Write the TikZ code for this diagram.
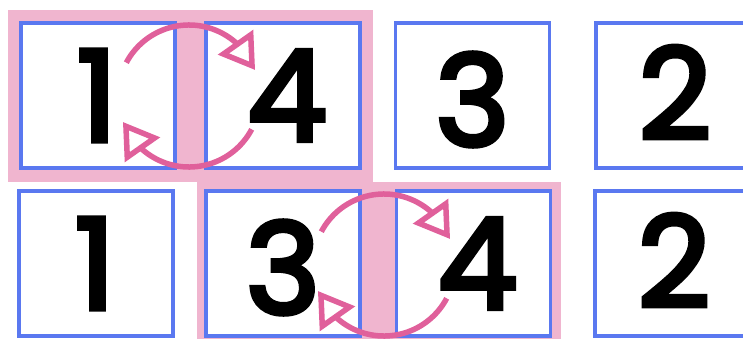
\documentclass[tikz,border=0pt]{standalone}
\usepackage{fontspec}
\newfontfamily\digitfont{Poppins}[FakeBold=4]
\usetikzlibrary{arrows.meta,bending}
\definecolor{pinkbg}{RGB}{240,181,207}
\definecolor{arcpink}{RGB}{224,96,155}
\definecolor{boxblue}{RGB}{90,120,240}
\tikzset{
  cell/.style={draw=boxblue, line width=3.5pt, fill=white, inner sep=0pt,
    minimum width=154pt, minimum height=145pt},
  digit/.style={inner sep=0pt, font=\digitfont\fontsize{126}{126}\selectfont},
  band/.style={fill=pinkbg, draw=none},
  swaparc/.style={draw=arcpink, line width=5.5pt, line join=miter,
    -{Triangle[open, length=34pt, width=42pt, line join=miter]}}
}
\begin{document}
\begin{tikzpicture}[x=1pt,y=1pt]
\useasboundingbox (0,0) rectangle (743,338);
% pink highlight bands
\fill[band] (8,156) rectangle (373,328);
\fill[band] (197,-10) rectangle (561,156);
% top row
\node[cell] (t1) at (98,242.5) {};
\node[cell] (t4) at (283,242.5) {};
\node[cell] (t3) at (472.5,242.5) {};
\node[cell] (t2) at (673,242.5) {};
% bottom row
\node[cell] (b1) at (96,74.5) {};
\node[cell] (b3) at (283,74.5) {};
\node[cell] (b4) at (473.5,74.5) {};
\node[cell] (b2) at (672,74.5) {};
% digits
\node[digit] (dt1) at ([xshift=-1pt]t1) {1};
\node[digit] (dt4) at ([xshift=4pt]t4) {4};
\node[digit] (dt3) at ([yshift=-4pt]t3) {3};
\node[digit] (dt2) at ([xshift=2pt,yshift=3pt]t2) {2};
\node[digit] (db1) at ([xshift=-1pt]b1) {1};
\node[digit] (db3) at ([yshift=-4pt]b3) {3};
\node[digit] (db4) at ([xshift=4pt]b4) {4};
\node[digit] (db2) at ([xshift=2pt,yshift=3pt]b2) {2};
% swap arrows
\coordinate (c1) at (189,242);
\coordinate (c2) at (384,73);
\draw[swaparc] ([shift={(152:71)}]c1) arc[start angle=152, end angle=21.5, radius=71];
\draw[swaparc] ([shift={(-28:71)}]c1) arc[start angle=-28, end angle=-158.5, radius=71];
\draw[swaparc] ([shift={(152:71)}]c2) arc[start angle=152, end angle=21.5, radius=71];
\draw[swaparc] ([shift={(-28:71)}]c2) arc[start angle=-28, end angle=-158.5, radius=71];
\end{tikzpicture}
\end{document}
